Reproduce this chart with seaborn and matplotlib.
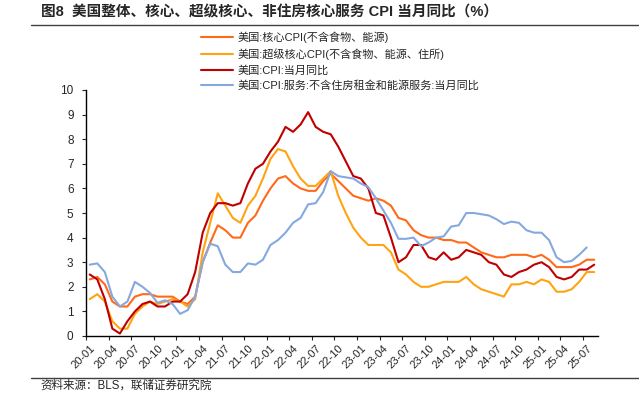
import matplotlib
matplotlib.use("Agg")
import matplotlib.pyplot as plt
from matplotlib.lines import Line2D
import seaborn as sns
import numpy as np
import pandas as pd

# monthly, 2020-01 .. 2025-08
months = pd.date_range("2020-01-01", periods=68, freq="MS").strftime("%y-%m").tolist()

core_cpi = [2.3, 2.4, 2.1, 1.4, 1.2, 1.2, 1.6, 1.7, 1.7, 1.6, 1.6, 1.6,
            1.4, 1.3, 1.6, 3.0, 3.8, 4.5, 4.3, 4.0, 4.0, 4.6, 4.9, 5.5,
            6.0, 6.4, 6.5, 6.2, 6.0, 5.9, 5.9, 6.3, 6.6, 6.3, 6.0, 5.7,
            5.6, 5.5, 5.6, 5.5, 5.3, 4.8, 4.7, 4.3, 4.1, 4.0, 4.0, 3.9,
            3.9, 3.8, 3.8, 3.6, 3.4, 3.3, 3.2, 3.2, 3.3, 3.3, 3.3, 3.2,
            3.3, 3.1, 2.8, 2.8, 2.8, 2.9, 3.1, 3.1]

supercore_cpi = [1.5, 1.7, 1.4, 0.6, 0.3, 0.3, 0.9, 1.2, 1.4, 1.3, 1.4, 1.5,
                 1.4, 1.2, 1.5, 3.4, 4.6, 5.8, 5.3, 4.8, 4.6, 5.3, 5.7, 6.4,
                 7.2, 7.6, 7.5, 6.9, 6.4, 6.1, 6.1, 6.4, 6.7, 5.7, 5.0, 4.4,
                 4.0, 3.7, 3.7, 3.7, 3.4, 2.7, 2.5, 2.2, 2.0, 2.0, 2.1, 2.2,
                 2.2, 2.2, 2.4, 2.1, 1.9, 1.8, 1.7, 1.6, 2.1, 2.1, 2.2, 2.1,
                 2.3, 2.2, 1.8, 1.8, 1.9, 2.2, 2.6, 2.6]

headline_cpi = [2.5, 2.3, 1.5, 0.3, 0.1, 0.6, 1.0, 1.3, 1.4, 1.2, 1.2, 1.4,
                1.4, 1.7, 2.6, 4.2, 5.0, 5.4, 5.4, 5.3, 5.4, 6.2, 6.8, 7.0,
                7.5, 7.9, 8.5, 8.3, 8.6, 9.1, 8.5, 8.3, 8.2, 7.7, 7.1, 6.5,
                6.4, 6.0, 5.0, 4.9, 4.0, 3.0, 3.2, 3.7, 3.7, 3.2, 3.1, 3.4,
                3.1, 3.2, 3.5, 3.4, 3.3, 3.0, 2.9, 2.5, 2.4, 2.6, 2.7, 2.9,
                3.0, 2.8, 2.4, 2.3, 2.4, 2.7, 2.7, 2.9]

services_ex_shelter = [2.9, 2.95, 2.6, 1.6, 1.2, 1.4, 2.2, 2.0, 1.75, 1.35, 1.45, 1.3,
                       0.9, 1.05, 1.6, 3.0, 3.75, 3.65, 2.9, 2.6, 2.6, 2.95, 2.9, 3.1,
                       3.7, 3.9, 4.2, 4.6, 4.8, 5.35, 5.4, 5.85, 6.7, 6.5, 6.45, 6.4,
                       6.2, 6.05, 5.6, 5.1, 4.6, 3.95, 3.95, 4.0, 3.65, 3.8, 4.0, 4.05,
                       4.45, 4.5, 5.0, 5.0, 4.95, 4.9, 4.75, 4.55, 4.65, 4.6, 4.3, 4.2,
                       4.2, 3.9, 3.2, 3.0, 3.05, 3.3, 3.6, np.nan]

series_names = ["美国:核心CPI(不含食物、能源)",
                "美国:超级核心CPI(不含食物、能源、住所)",
                "美国:CPI:当月同比",
                "美国:CPI:服务:不含住房租金和能源服务:当月同比"]
series_colors = ["#FF6A1A", "#FFA312", "#C00000", "#86A8E0"]

df = pd.DataFrame({"idx": np.arange(len(months)),
                   series_names[0]: core_cpi,
                   series_names[1]: supercore_cpi,
                   series_names[2]: headline_cpi,
                   series_names[3]: services_ex_shelter})

sns.set_style("ticks")
plt.rcParams["font.family"] = ["Liberation Sans", "Noto Sans CJK SC"]

fig = plt.figure(figsize=(6.39, 3.94), dpi=100)
ax = fig.add_axes([86 / 639, 1 - 336 / 394, 512 / 639, 246 / 394])

for name, color in zip(series_names, series_colors):
    sns.lineplot(data=df, x="idx", y=name, color=color, linewidth=1.5,
                 label=name, ax=ax)

ax.set_xlim(-0.5, len(months) - 0.5)
ax.set_ylim(0, 10)
ax.set_yticks(range(0, 11))
ax.set_xlabel("")
ax.set_ylabel("")

# tick marks between categories, labels on categories
ax.set_xticks(np.arange(-0.5, len(months), 3))
ax.set_xticklabels([])
ax.set_xticks(np.arange(0, len(months), 3), minor=True)
ax.set_xticklabels(months[::3], minor=True, rotation=45, ha="right",
                   rotation_mode="anchor", fontsize=8)
ax.tick_params(axis="x", which="major", length=3, width=0.8, direction="out")
ax.tick_params(axis="x", which="minor", length=0, pad=5)
ax.tick_params(axis="y", length=3, width=0.8, pad=6, labelsize=8.5)
for s in ["top", "right"]:
    ax.spines[s].set_visible(False)
for s in ["left", "bottom"]:
    ax.spines[s].set_color("black")
    ax.spines[s].set_linewidth(1.0)

ax.legend(loc="upper left", bbox_to_anchor=(201 / 639, 1 - 31.5 / 394),
          bbox_transform=fig.transFigure, frameon=False, fontsize=8,
          handlelength=2.9, handletextpad=0.35, labelspacing=0.46,
          borderpad=0, borderaxespad=0)

fig.text(41 / 639, 1 - 12 / 394,
         "图8  美国整体、核心、超级核心、非住房核心服务 CPI 当月同比（%）",
         fontsize=10.5, fontweight="bold", va="center", ha="left")
fig.add_artist(Line2D([31 / 639, 1], [1 - 25 / 394] * 2, color="#404040", lw=1.0))
fig.add_artist(Line2D([31 / 639, 1], [1 - 378 / 394] * 2, color="#404040", lw=1.0))
fig.text(40 / 639, 1 - 386 / 394, "资料来源：BLS，联储证券研究院",
         fontsize=8.3, va="center", ha="left")

fig.savefig("out.png", dpi=100)
plt.close(fig)
